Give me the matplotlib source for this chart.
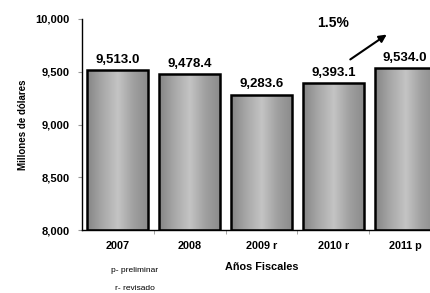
import numpy as np
import matplotlib
matplotlib.use('Agg')
import matplotlib.pyplot as plt
from matplotlib.colors import LinearSegmentedColormap

plt.rcParams['font.family'] = ['Liberation Sans', 'DejaVu Sans']

# data
years = ['2007', '2008', '2009 r', '2010 r', '2011 p']
values = [9513.0, 9478.4, 9283.6, 9393.1, 9534.0]
value_labels = ['9,513.0', '9,478.4', '9,283.6', '9,393.1', '9,534.0']
yticks = [8000, 8500, 9000, 9500, 10000]
ytick_labels = ['8,000', '8,500', '9,000', '9,500', '10,000']

fig = plt.figure(figsize=(4.31, 2.93), dpi=100)
ax = fig.add_axes([82/431, 1 - 230/293, (441 - 82)/431, (230 - 19)/293])

x = np.arange(len(years))
bars = ax.bar(x, np.array(values) - 8000, bottom=8000, width=0.85,
              color='none', edgecolor='black', linewidth=1.8, zorder=3)

# cylinder-like shading
cmap = LinearSegmentedColormap.from_list('cyl', ['#858585', '#a8a8a8', '#c4c4c4', '#a0a0a0', '#8a8a8a'])
grad = np.linspace(0, 1, 256).reshape(1, -1)
for b in bars:
    x0, y0 = b.get_x(), b.get_y()
    w, h = b.get_width(), b.get_height()
    im = ax.imshow(grad, cmap=cmap, aspect='auto', extent=[x0, x0 + w, y0, y0 + h], zorder=2)
    im.set_clip_path(b)

for xi, v, lab in zip(x, values, value_labels):
    ax.text(xi, v + 40, lab, ha='center', va='bottom', fontsize=9.5, fontweight='bold')

ax.set_xlim(-0.5, len(years) - 0.5)
ax.set_ylim(8000, 10000)
ax.set_yticks(yticks)
ax.set_yticklabels(ytick_labels, fontsize=8, fontweight='bold')
ax.set_xticks(x)
ax.set_xticklabels(years, fontsize=7.8, fontweight='bold')
ax.tick_params(axis='x', length=0, pad=8)
ax.set_xticks(np.arange(len(years) - 1) + 0.5, minor=True)
ax.tick_params(axis='x', which='minor', length=3, color='#999999')
ax.tick_params(axis='y', length=3, color='#999999', pad=6)
ax.spines['top'].set_visible(False)
ax.spines['right'].set_visible(False)
ax.spines['left'].set_linewidth(1.0)
ax.spines['bottom'].set_linewidth(1.0)

ax.set_ylabel('Millones de dólares', fontsize=7, fontweight='bold', labelpad=5)
ax.set_xlabel('Años Fiscales', fontsize=7.8, fontweight='bold', labelpad=8)

fig.text(135/431, 1 - 270/293, 'p- preliminar', ha='center', va='center', fontsize=6)
fig.text(135/431, 1 - 289/293, 'r- revisado', ha='center', va='center', fontsize=6)
fig.text(333/431, 1 - 23/293, '1.5%', ha='center', va='center', fontsize=10, fontweight='bold')
ax.annotate('', xy=(389/431, 1 - 33/293), xytext=(348/431, 1 - 61/293),
            xycoords='figure fraction', textcoords='figure fraction',
            arrowprops=dict(arrowstyle='-|>', color='black', lw=1.5, mutation_scale=11))

fig.savefig('out.png', dpi=100)
